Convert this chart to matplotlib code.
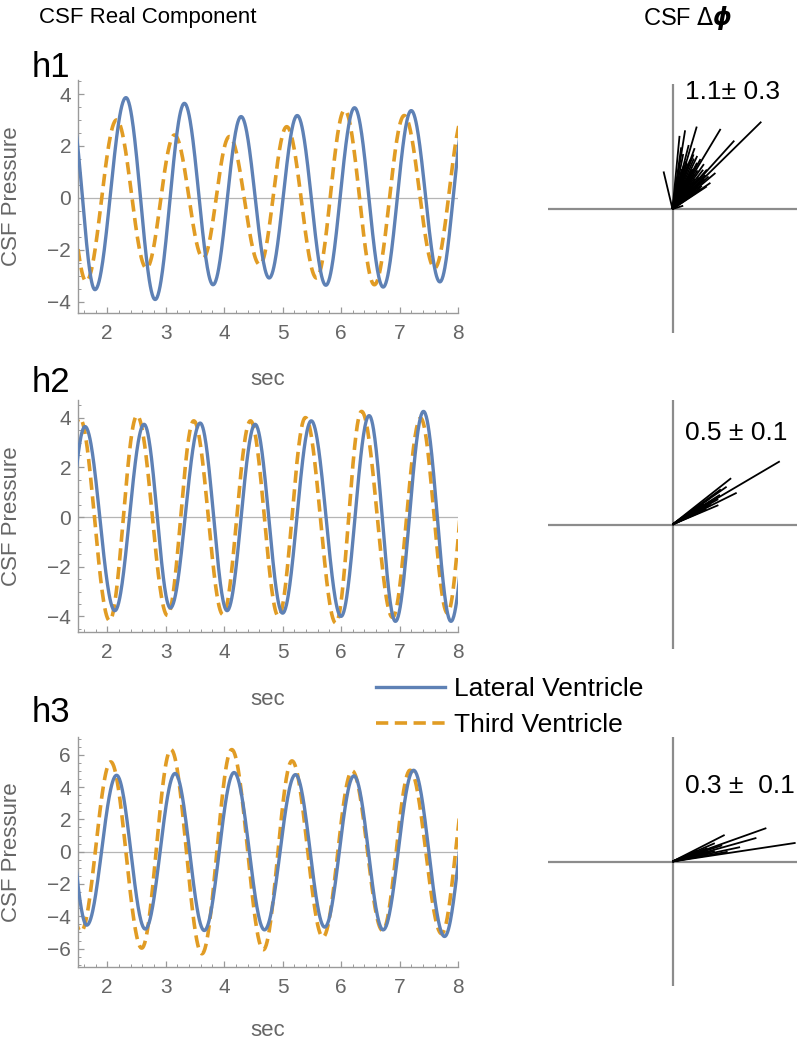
import numpy as np
import matplotlib
matplotlib.use("Agg")
import matplotlib.pyplot as plt
from matplotlib.ticker import MultipleLocator

plt.rcParams["font.family"] = ["Liberation Sans", "DejaVu Sans"]

# peaks / troughs (sec, pressure); first and last lie just outside the axis
h1_lateral_t = [1.36, 1.79, 2.32, 2.82, 3.32, 3.81, 4.29, 4.77, 5.25, 5.74, 6.23, 6.72, 7.20, 7.69, 8.15]
h1_lateral_p = [3.6, -3.54, 3.86, -3.92, 3.64, -3.35, 3.13, -3.09, 3.17, -3.37, 3.47, -3.44, 3.36, -3.24, 3.4]
h1_third_t = [1.17, 1.64, 2.16, 2.67, 3.15, 3.64, 4.09, 4.61, 5.07, 5.58, 6.06, 6.57, 7.08, 7.60, 8.10]
h1_third_p = [3.0, -3.22, 3.0, -2.71, 2.42, -2.32, 2.36, -2.58, 2.74, -3.09, 3.38, -3.35, 3.17, -2.71, 3.2]

h2_lateral_t = [1.16, 1.62, 2.13, 2.63, 3.08, 3.59, 4.05, 4.53, 5.00, 5.49, 6.00, 6.48, 6.93, 7.41, 7.88, 8.36]
h2_lateral_p = [-3.7, 3.65, -3.77, 3.74, -3.66, 3.79, -3.77, 3.74, -3.87, 3.88, -4.0, 4.09, -4.2, 4.26, -4.2, 4.2]
h2_third_t = [1.05, 1.53, 2.04, 2.51, 3.03, 3.48, 3.98, 4.45, 4.93, 5.39, 5.91, 6.35, 6.88, 7.36, 7.82, 8.25]
h2_third_p = [-4.0, 3.99, -4.17, 4.09, -3.96, 3.88, -3.93, 3.88, -4.0, 4.01, -4.27, 4.26, -4.04, 3.99, -3.87, 4.0]

h3_lateral_t = [1.22, 1.65, 2.16, 2.65, 3.16, 3.66, 4.17, 4.69, 5.22, 5.72, 6.22, 6.72, 7.24, 7.77, 8.27]
h3_lateral_p = [4.6, -4.55, 4.73, -4.79, 4.84, -4.88, 4.90, -4.84, 4.77, -4.67, 4.69, -4.84, 5.04, -5.25, 5.0]
h3_third_t = [1.05, 1.55, 2.06, 2.59, 3.09, 3.62, 4.13, 4.67, 5.16, 5.69, 6.19, 6.71, 7.18, 7.72, 8.20]
h3_third_p = [5.0, -4.95, 5.56, -5.97, 6.32, -6.32, 6.32, -6.07, 5.62, -5.29, 5.0, -4.88, 5.04, -5.08, 5.2]

# phase vectors: angle (deg) and relative length
h1_angles = [44.5, 47.9, 59, 73.6, 80.9, 84.5, 103.4, 70, 75.8, 40, 34.6, 33.4, 17,
             60.7, 65, 68.9, 55, 48.9, 42, 70.3, 72.7, 75.5,
             38, 43, 46, 50, 52, 57, 62, 64, 67, 71, 74, 77, 79, 82, 36, 53, 58, 63]
h1_lengths = [1.0, 0.74, 0.75, 0.69, 0.64, 0.59, 0.31, 0.52, 0.53, 0.45, 0.37, 0.33, 0.09,
              0.46, 0.47, 0.47, 0.44, 0.42, 0.39, 0.42, 0.39, 0.36,
              0.3, 0.35, 0.38, 0.33, 0.4, 0.37, 0.42, 0.35, 0.44, 0.38, 0.4, 0.33, 0.45, 0.5,
              0.28, 0.3, 0.32, 0.36]
h2_angles = [30.5, 38.3, 26.3, 34.9, 22.9, 32, 29, 27, 31, 25, 36, 24, 28, 30, 33, 35, 27.5]
h2_lengths = [1.0, 0.60, 0.575, 0.53, 0.40, 0.45, 0.42, 0.35, 0.38, 0.30, 0.48,
              0.25, 0.33, 0.28, 0.3, 0.36, 0.22]
h3_angles = [8.6, 19.6, 15.7, 27, 12, 23.4, 18, 14, 21, 10, 11, 16, 19, 24, 13]
h3_lengths = [1.0, 0.80, 0.70, 0.47, 0.555, 0.37, 0.42, 0.35, 0.30, 0.45, 0.25, 0.28, 0.2, 0.22, 0.3]

phase_text = ["1.1\u00b1 0.3", "0.5 \u00b1 0.1", "0.3 \u00b1  0.1"]
phase_text_y = [0.94, 0.735, 0.61]

blue = "#5E81B5"
orange = "#E19C24"
gray = "#666666"
W, H = 800, 1043


def wave(tk, pk, n=60):
    ts, ps = [], []
    for i in range(len(tk) - 1):
        s = np.linspace(0, 1, n, endpoint=False)
        ts.append(tk[i] + s * (tk[i + 1] - tk[i]))
        ps.append(pk[i] + (pk[i + 1] - pk[i]) * (1 - np.cos(np.pi * s)) / 2)
    ts.append([tk[-1]])
    ps.append([pk[-1]])
    return np.concatenate(ts), np.concatenate(ps)


fig = plt.figure(figsize=(8, 10.43), dpi=100)


def px_axes(l, t, r, b):
    return fig.add_axes([l / W, 1 - b / H, (r - l) / W, (b - t) / H])


series = [
    (h1_lateral_t, h1_lateral_p, h1_third_t, h1_third_p, (-4.44, 4.54), (80, 313), 56, "h1", 77),
    (h2_lateral_t, h2_lateral_p, h2_third_t, h2_third_p, (-4.63, 4.72), (400, 632), 57, "h2", 392),
    (h3_lateral_t, h3_lateral_p, h3_third_t, h3_third_p, (-7.14, 7.1), (737, 967), 53, "h3", 722),
]

lines_for_legend = None
for lt, lp, tt, tp, ylim, (top, bot), sec_off, tag, tag_y in series:
    ax = px_axes(78, top, 458, bot)
    x1, y1 = wave(lt, lp)
    x2, y2 = wave(tt, tp)
    ax.axhline(0, color="#b5b5b5", lw=0.9, zorder=1)
    l1, = ax.plot(x1, y1, color=blue, lw=2.4, label="Lateral Ventricle", zorder=3)
    l2, = ax.plot(x2, y2, color=orange, lw=2.6, dashes=(3.4, 1.8),
                  label="Third Ventricle", zorder=2)
    lines_for_legend = [l1, l2]
    ax.set_xlim(1.5, 8)
    ax.set_ylim(*ylim)
    ax.xaxis.set_major_locator(MultipleLocator(1))
    ax.xaxis.set_minor_locator(MultipleLocator(0.2))
    ax.yaxis.set_major_locator(MultipleLocator(2))
    ax.yaxis.set_minor_locator(MultipleLocator(0.5))
    for s in ["top", "right"]:
        ax.spines[s].set_visible(False)
    for s in ["left", "bottom"]:
        ax.spines[s].set_color("#9a9a9a")
        ax.spines[s].set_linewidth(1.0)
    ax.tick_params(which="both", direction="in", colors="#9a9a9a", labelcolor=gray,
                   labelsize=15)
    ax.tick_params(which="major", length=4.5, width=0.9)
    ax.tick_params(which="minor", length=2.3, width=0.7)
    ax.tick_params(axis="x", pad=8)
    ax.tick_params(axis="y", pad=5)
    ax.set_yticklabels([("\u2212" if v < 0 else "") + str(abs(int(v))) for v in ax.get_yticks()])
    ax.set_xlabel("sec", fontsize=16, color=gray)
    ax.xaxis.set_label_coords(0.5, -sec_off / (bot - top))
    ax.set_ylabel("CSF Pressure", fontsize=16, color=gray)
    ax.yaxis.set_label_coords(-56 / 380, 0.5)
    fig.text(32 / W, 1 - tag_y / H, tag, fontsize=25, va="baseline", ha="left")

phase = [(h1_angles, h1_lengths, 209), (h2_angles, h2_lengths, 524.5), (h3_angles, h3_lengths, 861.5)]
for i, (ang, ln, cy) in enumerate(phase):
    pa = px_axes(548, cy - 124.5, 797, cy + 124.5)
    pa.set_xlim(-1, 1)
    pa.set_ylim(-1, 1)
    pa.axis("off")
    pa.axhline(0, color="#8c8c8c", lw=1.6)
    pa.axvline(0, color="#8c8c8c", lw=1.6)
    a = np.radians(ang)
    r = np.array(ln)
    for xe, ye in zip(r * np.cos(a), r * np.sin(a)):
        pa.plot([0, xe], [0, ye], color="black", lw=1.3, solid_capstyle="butt")
    pa.text(0.1, phase_text_y[i], phase_text[i], fontsize=19, va="center", ha="left")

fig.text(148 / W, 1 - 18 / H, "CSF Real Component", fontsize=16, ha="center", va="center")
fig.text(688 / W, 1 - 18 / H, r"CSF $\Delta\boldsymbol{\phi}$", fontsize=17, ha="center", va="center")

fig.legend(lines_for_legend, ["Lateral Ventricle", "Third Ventricle"],
           loc="center left", bbox_to_anchor=(376 / W, 1 - 707 / H), frameon=False,
           fontsize=19, handlelength=2.6, handletextpad=0.35, labelspacing=0.45,
           borderpad=0, borderaxespad=0)

fig.savefig("out.png", dpi=100)
